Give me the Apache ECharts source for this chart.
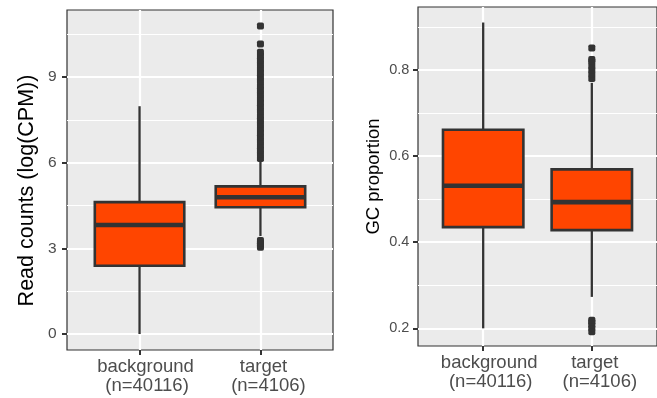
<!DOCTYPE html>
<html><head><meta charset="utf-8">
<script src="https://cdn.jsdelivr.net/npm/echarts@6/dist/echarts.min.js"></script>
<style>html,body{margin:0;padding:0;background:#fff}#c{width:657px;height:398px}</style>
</head><body><div id="c"></div>
<script>
// ---- data ----
const categories = ['background', 'target'];
const categoryCounts = ['(n=40116)', '(n=4106)'];
const categoryPositions = [1, 2];

// Read counts (log(CPM)) : [min, Q1, median, Q3, max]
const readBackground = [0, 2.39, 3.82, 4.62, 7.98];
const readTarget = [3.43, 4.44, 4.79, 5.17, 6.09];
const readOutliersTarget = [3.04, 3.12, 3.2, 3.28,
  6.15, 6.3, 6.45, 6.6, 6.75, 6.9, 7.05, 7.2, 7.35, 7.5, 7.65, 7.8, 7.95, 8.1,
  8.25, 8.4, 8.55, 8.7, 8.85, 9.0, 9.15, 9.3, 9.45, 9.6, 9.75, 9.87, 10.16, 10.79];
const readTicks = [0, 3, 6, 9];
const readMinorTicks = [1.5, 4.5, 7.5, 10.5];

// GC proportion : [min, Q1, median, Q3, max]
const gcBackground = [0.2, 0.435, 0.531, 0.661, 0.91];
const gcTarget = [0.273, 0.428, 0.493, 0.569, 0.77];
const gcOutliersTarget = [0.192, 0.2, 0.208, 0.215, 0.219,
  0.78, 0.79, 0.80, 0.81, 0.82, 0.824, 0.851];
const gcTicks = [0.2, 0.4, 0.6, 0.8];
const gcMinorTicks = [0.3, 0.5, 0.7, 0.9];

// ---- styling ----
const FONT = "'Liberation Sans', Arial, Helvetica, sans-serif";
const FILL = '#FF4500';
const DARK = '#333333';

function boxItem(params, api) {
  const x = api.value(0);
  const lo = api.coord([x, api.value(1)]);
  const q1 = api.coord([x, api.value(2)]);
  const md = api.coord([x, api.value(3)]);
  const q3 = api.coord([x, api.value(4)]);
  const hi = api.coord([x, api.value(5)]);
  const w = api.size([0.74, 0])[0];
  const ls = { stroke: DARK, lineWidth: 2.3 };
  return {
    type: 'group',
    children: [
      { type: 'line', shape: { x1: lo[0], y1: lo[1], x2: q1[0], y2: q1[1] }, style: ls },
      { type: 'line', shape: { x1: q3[0], y1: q3[1], x2: hi[0], y2: hi[1] }, style: ls },
      { type: 'rect', shape: { x: q3[0] - w / 2, y: q3[1], width: w, height: q1[1] - q3[1] },
        style: { fill: FILL, stroke: DARK, lineWidth: 2.6 } },
      { type: 'line', shape: { x1: md[0] - w / 2, y1: md[1], x2: md[0] + w / 2, y2: md[1] },
        style: { stroke: DARK, lineWidth: 4.6 } }
    ]
  };
}

const rich = {
  a0: { fontFamily: FONT, fontSize: 18.5, color: '#4D4D4D', lineHeight: 18.5, padding: [0, 0, 0, 12] },
  b0: { fontFamily: FONT, fontSize: 18.5, color: '#4D4D4D', lineHeight: 18.5, padding: [0, 0, 0, 15] },
  a1: { fontFamily: FONT, fontSize: 18.5, color: '#4D4D4D', lineHeight: 18.5, padding: [0, 0, 0, 6] },
  b1: { fontFamily: FONT, fontSize: 18.5, color: '#4D4D4D', lineHeight: 18.5, padding: [0, 0, 0, 16] }
};

function xAxes(gridIndex) {
  return [{
    type: 'value', gridIndex, min: 0.4, max: 2.6,
    axisLine: { show: false, onZero: false },
    axisTick: { show: true, length: 5, customValues: categoryPositions, lineStyle: { color: DARK, width: 2 } },
    axisLabel: {
      show: true, margin: 8, customValues: categoryPositions,
      formatter: function (v) {
        const i = categoryPositions.indexOf(Math.round(v));
        return '{a' + i + '|' + categories[i] + '}\n{b' + i + '|' + categoryCounts[i] + '}';
      },
      rich
    },
    splitLine: { show: true, lineStyle: { color: '#FFFFFF', width: 2.2 } }
  }];
}

function yAxes(gridIndex, min, max, ticks, minor, name, nameSize, labelSize, margin, nameGap, namePad, decimals) {
  return [{
    type: 'value', gridIndex, min, max, position: 'left',
    name, nameLocation: 'middle', nameGap,
    nameTextStyle: { fontFamily: FONT, fontSize: nameSize, color: '#000000', padding: namePad },
    axisLine: { show: false, onZero: false },
    axisTick: { show: true, length: 5, customValues: ticks, lineStyle: { color: DARK, width: 2 } },
    axisLabel: { show: true, customValues: ticks, margin, fontFamily: FONT, fontSize: labelSize, color: '#4D4D4D',
      formatter: v => decimals ? v.toFixed(decimals) : String(Math.round(v)) },
    splitLine: { show: true, lineStyle: { color: '#FFFFFF', width: 2.2 } }
  }, {
    type: 'value', gridIndex, min, max, position: 'right',
    axisLine: { show: false, onZero: false },
    axisTick: { show: false, customValues: minor },
    axisLabel: { show: false, customValues: minor },
    splitLine: { show: true, lineStyle: { color: '#FFFFFF', width: 1.1 } }
  }];
}

const chart = echarts.init(document.getElementById('c'), null, { renderer: 'canvas' });
chart.setOption({
  animation: false,
  backgroundColor: '#FFFFFF',
  grid: [
    { left: 67, top: 10, width: 266, height: 340, show: true, backgroundColor: '#EBEBEB', borderColor: DARK, borderWidth: 1.2 },
    { left: 418, top: 7, width: 246, height: 339, show: true, backgroundColor: '#EBEBEB', borderColor: DARK, borderWidth: 1.2 }
  ],
  xAxis: [...xAxes(0), ...xAxes(1)],
  yAxis: [
    ...yAxes(0, -0.56, 11.35, readTicks, readMinorTicks, 'Read counts (log(CPM))', 21.5, 15.5, 10.5, 29, [0, 21, 0, 0], 0),
    ...yAxes(1, 0.159, 0.946, gcTicks, gcMinorTicks, 'GC proportion', 18.5, 14.5, 8.7, 35, [0, 0, 0, 0], 1)
  ],
  series: [
    {
      type: 'scatter', xAxisIndex: 0, yAxisIndex: 0, symbol: 'roundRect', symbolSize: 7,
      itemStyle: { color: DARK, opacity: 1 }, silent: true,
      data: readOutliersTarget.map(v => [categoryPositions[1], v])
    },
    {
      type: 'custom', xAxisIndex: 0, yAxisIndex: 0, renderItem: boxItem, silent: true,
      encode: { x: 0, y: [1, 2, 3, 4, 5] },
      data: [[categoryPositions[0], ...readBackground], [categoryPositions[1], ...readTarget]]
    },
    {
      type: 'scatter', xAxisIndex: 1, yAxisIndex: 2, symbol: 'roundRect', symbolSize: 7,
      itemStyle: { color: DARK, opacity: 1 }, silent: true,
      data: gcOutliersTarget.map(v => [categoryPositions[1], v])
    },
    {
      type: 'custom', xAxisIndex: 1, yAxisIndex: 2, renderItem: boxItem, silent: true,
      encode: { x: 0, y: [1, 2, 3, 4, 5] },
      data: [[categoryPositions[0], ...gcBackground], [categoryPositions[1], ...gcTarget]]
    }
  ]
});
</script>
</body></html>
